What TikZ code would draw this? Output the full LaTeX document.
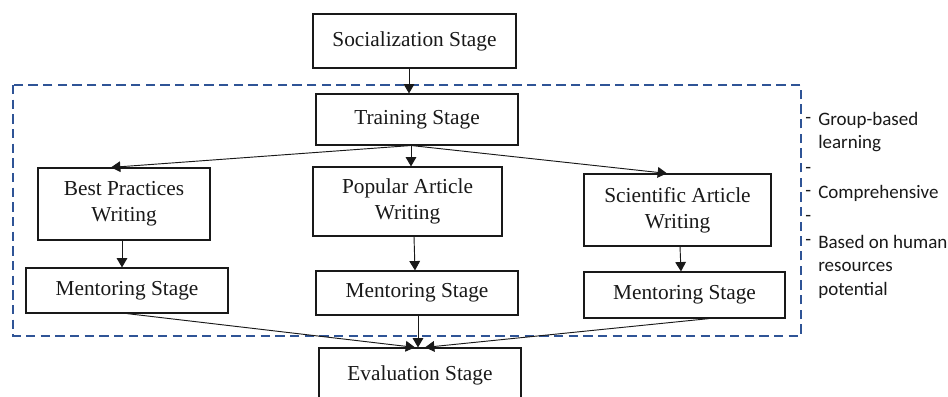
\documentclass[tikz,border=0pt]{standalone}
\usepackage{fontspec}
\setmainfont{Liberation Serif}
\newfontfamily\sidefont{Carlito}
\usetikzlibrary{arrows.meta}
\definecolor{dashblue}{RGB}{47,84,150}
\definecolor{inkgray}{RGB}{25,25,25}
\begin{document}
\begin{tikzpicture}[x=0.75pt,y=-0.75pt,
  box/.style={draw=inkgray, line width=0.9pt, inner sep=0pt, align=center,
    font=\fontsize{16}{19.5}\selectfont, text=inkgray},
  arr/.style={draw=inkgray, line width=0.7pt, -{Triangle[width=8pt,length=7pt]}},
  side/.style={anchor=west, inner sep=0pt, font=\sidefont\fontsize{14.25}{18}\selectfont, text=inkgray}]
\useasboundingbox (0,0) rectangle (948,396);
\clip (0,0) rectangle (948,396);
\fill[white] (0,0) rectangle (948,396);

% dashed group frame
\draw[dashblue, line width=1.5pt, dash pattern=on 7pt off 4pt] (13,85) rectangle (801,336);

% boxes
\node[box, minimum width=152.25pt, minimum height=40.5pt] (soc) at (414.5,41) {Socialization Stage};
\node[box, minimum width=151.5pt, minimum height=38.25pt] (train) at (417,119.5) {Training Stage};
\node[box, minimum width=129pt, minimum height=54pt] (best) at (124,204) {Best Practices\\Writing};
\node[box, minimum width=141.75pt, minimum height=51.75pt] (pop) at (407.5,201.5) {Popular Article\\Writing};
\node[box, minimum width=140.25pt, minimum height=54pt] (sci) at (677.5,210) {Scientific Article\\Writing};
\node[box, minimum width=151.5pt, minimum height=33.75pt] (m1) at (127,290.5) {Mentoring Stage};
\node[box, minimum width=151.5pt, minimum height=33pt] (m2) at (417,293) {Mentoring Stage};
\node[box, minimum width=150.75pt, minimum height=34.5pt] (m3) at (684.5,295) {Mentoring Stage};
\node[box, minimum width=151.5pt, minimum height=40.5pt] (eval) at (420,375) {Evaluation Stage};

% connectors
\draw[arr] ([xshift=-4.125pt]soc.south) -- ([xshift=-6pt]train.north);
\draw[arr] ([xshift=-5.25pt]train.south) -- ([xshift=-9.75pt]best.north);
\draw[arr] ([xshift=-4.5pt]train.south) -- ([xshift=2.625pt]pop.north);
\draw[arr] ([xshift=-3.75pt]train.south) -- ([xshift=-7.875pt]sci.north);
\draw[arr] ([xshift=-1.5pt]best.south) -- ([xshift=-3.75pt]m1.north);
\draw[arr] ([xshift=4.875pt]pop.south) -- ([xshift=-1.5pt]m2.north);
\draw[arr] ([xshift=1.875pt]sci.south) -- ([xshift=-2.625pt]m3.north);
\draw[arr] (m1.south) -- ([xshift=-3.75pt]eval.north);
\draw[arr] ([xshift=0.75pt]m2.south) -- ([xshift=-1.5pt]eval.north);
\draw[arr] ([xshift=18.375pt]m3.south) -- ([xshift=3.75pt]eval.north);

% side labels
\node[side] (d1) at (805,120) {-};
\node[side] (l1) at (818,120) {Group-based};
\node[side] (l1b) at (818,144) {learning};
\node[side] (d2) at (805,170) {-};
\node[side] (d3) at (805,193) {-};
\node[side] (l2) at (818,193) {Comprehensive};
\node[side] (d4) at (805,218) {-};
\node[side] (d5) at (805,242) {-};
\node[side] (l3) at (818,242) {Based on human};
\node[side] (l3b) at (818,267) {resources};
\node[side] (l3c) at (818,290) {potential};
\end{tikzpicture}
\end{document}
